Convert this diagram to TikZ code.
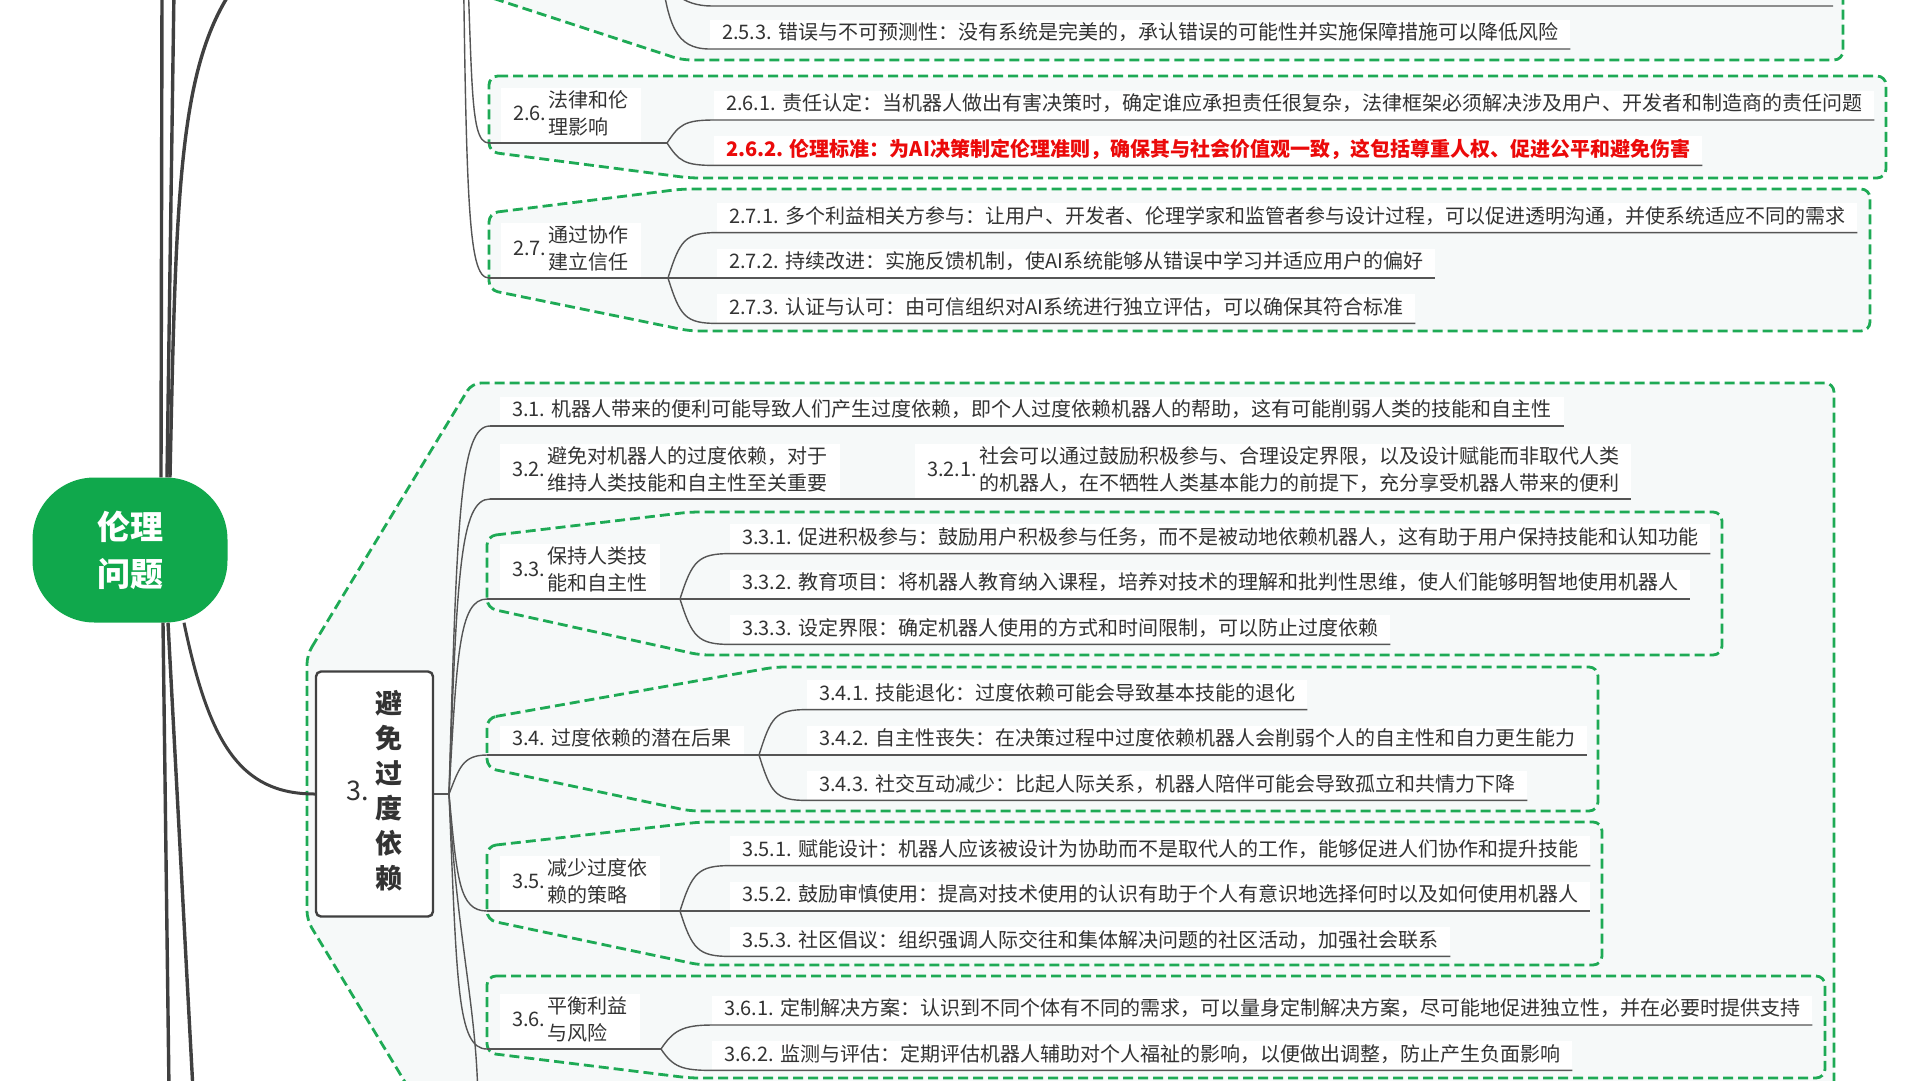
\documentclass[tikz,border=0pt]{standalone}
\usepackage{fontspec}
\setmainfont{Noto Sans CJK SC}
\usepackage{tikz}
\usetikzlibrary{positioning}

\definecolor{rootgreen}{RGB}{16,168,76}
\definecolor{dashgreen}{RGB}{30,170,85}
\definecolor{boundfill}{RGB}{246,249,249}
\definecolor{linegray}{RGB}{85,85,85}
\definecolor{trunkgray}{RGB}{64,64,64}
\definecolor{txtgray}{RGB}{51,51,51}
\definecolor{hlred}{RGB}{235,10,10}

\begin{document}
\begin{tikzpicture}[
        x=1pt, y=-1pt,
        every node/.style={font=\fontsize{20}{27}\selectfont, text=txtgray},
        leaf/.style={
            anchor=south west, fill=white, inner xsep=12pt, inner ysep=5pt,
            text height=15pt, text depth=4pt
        },
        pnode/.style={anchor=south west, fill=white, inner xsep=12pt, inner ysep=0.5pt},
        hl/.style={text=hlred, font=\fontsize{20}{27}\selectfont\bfseries},
        root/.style={
            rectangle, rounded corners=62pt, fill=rootgreen, text=white,
            minimum width=195pt, minimum height=145pt, align=center,
            font=\fontsize{33}{47}\selectfont\bfseries
        },
        topic/.style={
            rectangle, rounded corners=5pt, draw=trunkgray, line width=2.4pt,
            fill=white, minimum width=117pt, minimum height=245pt, inner sep=0pt,
            font=\fontsize{27}{35}\selectfont\bfseries
        },
        bound/.style={
            draw=dashgreen, line width=2.8pt, dash pattern=on 10pt off 5pt,
            fill=boundfill, rounded corners=9pt
        },
        link/.style={draw=linegray, line width=1.4pt},
        trunk/.style={draw=trunkgray, line width=3.4pt}
        ]

    \fill[white] (0,0) rectangle (1920,1080);
    \useasboundingbox (0,0) rectangle (1920,1080);

    % --- 虚线分组框 ---
        \draw[bound] (437,-20) -- (682,60) -- (1843,60) -- (1843,-20);
        \draw[bound] (489,76) -- (1886,76) -- (1886,178) -- (690,178) -- (489,152) -- cycle;
        \draw[bound] (489,213) -- (682,189) -- (1870,189) -- (1870,331) -- (690,331) -- (489,290) -- cycle;
        \draw[bound] (307,655) -- (472,383) -- (1834,383) -- (1834,1120) -- (428,1120) -- (307,920) -- cycle;
        \draw[bound] (487,536) -- (690,512) -- (1722,512) -- (1722,655) -- (700,655) -- (487,608) -- cycle;
        \draw[bound] (487,718) -- (775,667) -- (1598,667) -- (1598,811) -- (690,811) -- (487,768) -- cycle;
        \draw[bound] (487,846) -- (700,822) -- (1602,822) -- (1602,965) -- (700,965) -- (487,920) -- cycle;
        \draw[bound] (487,976) -- (1825,976) -- (1825,1078) -- (690,1078) -- (487,1053) -- cycle;

    % --- 根节点与主干 ---
        \node[root] (root) at (130,550) {伦理\\问题};

        \coordinate (up1) at (162,-10);
        \coordinate (up2) at (174,-10);
        \coordinate (up3) at (232,-10);
        \coordinate (dn1) at (169,1090);
        \coordinate (dn2) at (193,1090);

        \draw[trunk] ([xshift=31pt]root.north) -- (up1);
        \draw[trunk] ([xshift=37pt]root.north) -- (up2);
        \draw[trunk] ([xshift=40pt]root.north) .. controls (176,200) and (178,70) .. (up3);
        \draw[trunk] ([xshift=33pt]root.south) -- (dn1);
        \draw[trunk] ([xshift=38pt]root.south) -- (dn2);

    % --- 分支 2（上方，部分可见）---
        \node[leaf] (n253) at (710,49)
            {2.5.3. 错误与不可预测性：没有系统是完美的，承认错误的可能性并实施保障措施可以降低风险};

        \coordinate (s25) at (660,-35);
        \coordinate (c252) at (712,6);
        \coordinate (e252) at (1833,6);
        \draw[link] (s25) .. controls +(6,25) and +(-30,0) .. (c252) -- (e252);
        \draw[link] (s25) .. controls +(8,60) and +(-35,0) .. (n253.south west) -- (n253.south east);

        \node[pnode] (n26) at (501,143)
            {2.6.\hspace{2pt}\begin{tabular}[c]{@{}l@{}}法律和伦\\理影响\end{tabular}};
        \node[leaf] (n261) at (714,120)
            {2.6.1. 责任认定：当机器人做出有害决策时，确定谁应承担责任很复杂，法律框架必须解决涉及用户、开发者和制造商的责任问题};
        \node[leaf, hl, below=16pt of n261.south west, anchor=north west] (n262)
            {2.6.2. 伦理标准：为AI决策制定伦理准则，确保其与社会价值观一致，这包括尊重人权、促进公平和避免伤害};

        \node[pnode] (n27) at (501,278)
            {2.7.\hspace{2pt}\begin{tabular}[c]{@{}l@{}}通过协作\\建立信任\end{tabular}};
        \node[leaf] (n272) at (717,278)
            {2.7.2. 持续改进：实施反馈机制，使AI系统能够从错误中学习并适应用户的偏好};
        \node[leaf, above=16pt of n272.north west, anchor=south west] (n271)
            {2.7.1. 多个利益相关方参与：让用户、开发者、伦理学家和监管者参与设计过程，可以促进透明沟通，并使系统适应不同的需求};
        \node[leaf, below=16pt of n272.south west, anchor=north west] (n273)
            {2.7.3. 认证与认可：由可信组织对AI系统进行独立评估，可以确保其符合标准};

        \coordinate (s2) at (462,-160);
        \coordinate (c26) at (489,143);
        \coordinate (p26) at (667,143);
        \coordinate (c27) at (489,278);
        \coordinate (p27) at (668,278);

        \draw[link] (s2) .. controls +(12,230) and +(-22,0) .. (c26);
        \draw[link] (s2) .. controls +(4,360) and +(-22,0) .. (c27);

        \draw[link] (c26) -- (p26);
        \draw[link] (p26) .. controls +(12,-18) and +(-30,0) .. (n261.south west) -- (n261.south east);
        \draw[link] (p26) .. controls +(12,18) and +(-30,0) .. (n262.south west) -- (n262.south east);

        \draw[link] (c27) -- (n272.south east);
        \draw[link] (p27) .. controls +(12,-38) and +(-32,0) .. (n271.south west) -- (n271.south east);
        \draw[link] (p27) .. controls +(12,38) and +(-32,0) .. (n273.south west) -- (n273.south east);

    % --- 分支 3：避免过度依赖 ---
        \node[topic] (br3) at (374.5,794)
            {{\mdseries 3.}\hspace{6pt}\begin{tabular}[c]{@{}c@{}}避\\免\\过\\度\\依\\赖\end{tabular}};

        \draw[trunk, line width=3pt] ([xshift=54pt]root.south) .. controls +(25,120) and +(-75,0) .. (br3.west);

        % 3.1 / 3.2
        \node[leaf] (n31) at (500,426)
            {3.1. 机器人带来的便利可能导致人们产生过度依赖，即个人过度依赖机器人的帮助，这有可能削弱人类的技能和自主性};
        \node[pnode] (n32) at (500,499)
            {3.2.\hspace{2pt}\begin{tabular}[c]{@{}l@{}}避免对机器人的过度依赖，对于\\维持人类技能和自主性至关重要\end{tabular}};
        \node[pnode] (n321) at (915,499)
            {3.2.1.\hspace{2pt}\begin{tabular}[c]{@{}l@{}}社会可以通过鼓励积极参与、合理设定界限，以及设计赋能而非取代人类\\的机器人，在不牺牲人类基本能力的前提下，充分享受机器人带来的便利\end{tabular}};

        % 3.3
        \node[pnode] (n33) at (500,599)
            {3.3.\hspace{2pt}\begin{tabular}[c]{@{}l@{}}保持人类技\\能和自主性\end{tabular}};
        \node[leaf] (n332) at (730,599)
            {3.3.2. 教育项目：将机器人教育纳入课程，培养对技术的理解和批判性思维，使人们能够明智地使用机器人};
        \node[leaf, above=16pt of n332.north west, anchor=south west] (n331)
            {3.3.1. 促进积极参与：鼓励用户积极参与任务，而不是被动地依赖机器人，这有助于用户保持技能和认知功能};
        \node[leaf, below=16pt of n332.south west, anchor=north west] (n333)
            {3.3.3. 设定界限：确定机器人使用的方式和时间限制，可以防止过度依赖};

        % 3.4
        \node[leaf] (n34) at (500,755) {3.4. 过度依赖的潜在后果};
        \node[leaf] (n342) at (807,755)
            {3.4.2. 自主性丧失：在决策过程中过度依赖机器人会削弱个人的自主性和自力更生能力};
        \node[leaf, above=16pt of n342.north west, anchor=south west] (n341)
            {3.4.1. 技能退化：过度依赖可能会导致基本技能的退化};
        \node[leaf, below=16pt of n342.south west, anchor=north west] (n343)
            {3.4.3. 社交互动减少：比起人际关系，机器人陪伴可能会导致孤立和共情力下降};

        % 3.5
        \node[pnode] (n35) at (500,911)
            {3.5.\hspace{2pt}\begin{tabular}[c]{@{}l@{}}减少过度依\\赖的策略\end{tabular}};
        \node[leaf] (n352) at (730,911)
            {3.5.2. 鼓励审慎使用：提高对技术使用的认识有助于个人有意识地选择何时以及如何使用机器人};
        \node[leaf, above=16pt of n352.north west, anchor=south west] (n351)
            {3.5.1. 赋能设计：机器人应该被设计为协助而不是取代人的工作，能够促进人们协作和提升技能};
        \node[leaf, below=16pt of n352.south west, anchor=north west] (n353)
            {3.5.3. 社区倡议：组织强调人际交往和集体解决问题的社区活动，加强社会联系};

        % 3.6
        \node[pnode] (n36) at (500,1049)
            {3.6.\hspace{2pt}\begin{tabular}[c]{@{}l@{}}平衡利益\\与风险\end{tabular}};
        \node[leaf] (n361) at (712,1025)
            {3.6.1. 定制解决方案：认识到不同个体有不同的需求，可以量身定制解决方案，尽可能地促进独立性，并在必要时提供支持};
        \node[leaf, below=16pt of n361.south west, anchor=north west] (n362)
            {3.6.2. 监测与评估：定期评估机器人辅助对个人福祉的影响，以便做出调整，防止产生负面影响};

        % 分支 3 的连线
        \coordinate (s3) at (449,794);
        \coordinate (c31) at (490,426);
        \coordinate (c32) at (490,499);
        \coordinate (c33) at (487,599);
        \coordinate (p33) at (680,599);
        \coordinate (c34) at (487,755);
        \coordinate (p34) at (759,755);
        \coordinate (c35) at (487,911);
        \coordinate (p35) at (680,911);
        \coordinate (c36) at (487,1049);
        \coordinate (p36) at (661,1049);
        \coordinate (c37) at (478,1110);

        \draw[link] (br3.east) -- (s3);
        \draw[link] (s3) .. controls +(8,-280) and +(-30,0) .. (c31);
        \draw[link] (s3) .. controls +(8,-220) and +(-30,0) .. (c32);
        \draw[link] (s3) .. controls +(8,-140) and +(-28,0) .. (c33);
        \draw[link] (s3) .. controls +(10,-25) and +(-25,0) .. (c34);
        \draw[link] (s3) .. controls +(8,85) and +(-28,0) .. (c35);
        \draw[link] (s3) .. controls +(8,190) and +(-30,0) .. (c36);
        \draw[link] (s3) .. controls +(8,150) and +(0,-100) .. (c37);

        \draw[link] (c31) -- (n31.south east);
        \draw[link] (c32) -- (n321.south east);

        \draw[link] (c33) -- (n332.south east);
        \draw[link] (p33) .. controls +(12,-38) and +(-32,0) .. (n331.south west) -- (n331.south east);
        \draw[link] (p33) .. controls +(12,38) and +(-32,0) .. (n333.south west) -- (n333.south east);

        \draw[link] (c34) -- (n342.south east);
        \draw[link] (p34) .. controls +(12,-38) and +(-32,0) .. (n341.south west) -- (n341.south east);
        \draw[link] (p34) .. controls +(12,38) and +(-32,0) .. (n343.south west) -- (n343.south east);

        \draw[link] (c35) -- (n352.south east);
        \draw[link] (p35) .. controls +(12,-38) and +(-32,0) .. (n351.south west) -- (n351.south east);
        \draw[link] (p35) .. controls +(12,38) and +(-32,0) .. (n353.south west) -- (n353.south east);

        \draw[link] (c36) -- (p36);
        \draw[link] (p36) .. controls +(12,-18) and +(-30,0) .. (n361.south west) -- (n361.south east);
        \draw[link] (p36) .. controls +(12,18) and +(-30,0) .. (n362.south west) -- (n362.south east);

\end{tikzpicture}
\end{document}
